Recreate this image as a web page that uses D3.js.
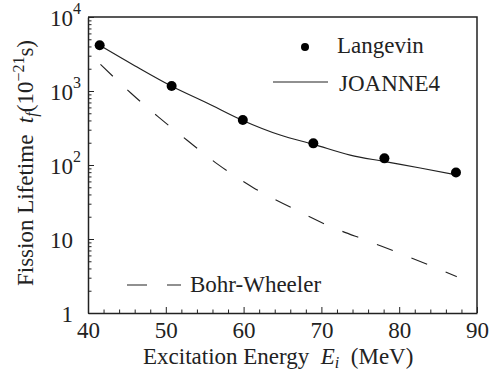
<!DOCTYPE html>
<html>
<head>
<meta charset="utf-8">
<script src="https://cdn.jsdelivr.net/npm/d3@7"></script>
<style>
  body { margin: 0; background: #fff; }
  svg text { font-family: "Liberation Serif", "Times New Roman", Times, serif !important; }
</style>
</head>
<body>
<div id="chart"></div>
<script>
// Langevin points
let langevinE = [41.5, 50.75, 59.9, 68.96, 78.1, 87.3];
let langevinT = [4150, 1170, 405, 196, 123, 79];

// JOANNE4 curve
let joanneE = [41.5, 46, 50.7, 55.3, 59.9, 64.7, 69, 73.7, 78, 82.7, 87.5];
let joanneT = [4150, 2200, 1170, 690, 400, 254, 190, 136, 112, 91, 73];

// Bohr-Wheeler curve
let bohrE = [41.6, 45.5, 49, 52.7, 56.7, 61.3, 66.1, 71, 76.1, 81.3, 87.4];
let bohrT = [2290, 940, 450, 218, 102, 49, 26.7, 15, 9.3, 5.7, 3.1];

let xTicks = [40, 50, 60, 70, 80, 90];
let xMinor = [42, 44, 46, 48, 52, 54, 56, 58, 62, 64, 66, 68, 72, 74, 76, 78, 82, 84, 86, 88];
let yTicks = [1, 10, 100, 1000, 10000];
let yLabels = [["1", ""], ["10", ""], ["10", "2"], ["10", "3"], ["10", "4"]];

let W = 489, H = 373;
let margin = { top: 17, right: 12, bottom: 60, left: 88 };
let width = W - margin.left - margin.right;
let height = H - margin.top - margin.bottom;
let ink = "#222";
let fs = 23;

let svg = d3.select('#chart').append('svg')
    .attr('width', W)
    .attr('height', H);

let x = d3.scaleLinear().domain([40, 90]).range([0, width]);
let y = d3.scaleLog().domain([1, 10000]).range([height, 0]);

let g = svg.append('g')
    .attr('transform', 'translate(' + margin.left + ',' + margin.top + ')');

// frame top / right
g.append('path')
    .attr('d', 'M0,0H' + width + 'V' + height)
    .attr('fill', 'none')
    .attr('stroke', ink)
    .attr('stroke-width', 1.5);

// x axis
let xAxis = g.append('g')
    .attr('transform', 'translate(0,' + height + ')')
    .call(d3.axisBottom(x).tickValues(xTicks).tickSize(-6).tickSizeOuter(0).tickPadding(9));
g.append('g')
    .attr('transform', 'translate(0,' + height + ')')
    .call(d3.axisBottom(x).tickValues(xMinor).tickSize(-3.5).tickSizeOuter(0).tickFormat(''))
    .select('.domain').remove();

// y axis
let yMinor = [];
[1, 10, 100, 1000].forEach(function (d) {
    for (let k = 2; k <= 9; k++) yMinor.push(k * d);
});
let yAxis = g.append('g')
    .call(d3.axisLeft(y).tickValues(yTicks).tickSize(-6).tickSizeOuter(0).tickFormat(''));
g.append('g')
    .call(d3.axisLeft(y).tickValues(yMinor).tickSize(-3.5).tickSizeOuter(0).tickFormat(''))
    .select('.domain').remove();

g.selectAll('.domain').attr('stroke', ink).attr('stroke-width', 1.5);
g.selectAll('.tick line').attr('stroke', ink).attr('stroke-width', 1);
xAxis.selectAll('text')
    .attr('fill', ink)
    .style('font-size', fs + 'px');

// y tick labels with superscripts
yAxis.selectAll('.tick').each(function (d, i) {
    let t = d3.select(this);
    let lab = yLabels[i];
    t.append('text')
        .attr('x', -15)
        .attr('dy', '0.35em')
        .attr('text-anchor', 'end')
        .attr('fill', ink)
        .style('font-size', fs + 'px')
        .text(lab[0]);
    if (lab[1]) {
        t.append('text')
            .attr('x', -15)
            .attr('dy', '-0.2em')
            .attr('text-anchor', 'start')
            .attr('fill', ink)
            .style('font-size', '16px')
            .text(lab[1]);
    }
});

// Bohr-Wheeler dashed
let line = d3.line()
    .x(function (d) { return x(d[0]); })
    .y(function (d) { return y(d[1]); })
    .curve(d3.curveMonotoneX);

g.append('path')
    .datum(d3.zip(bohrE, bohrT))
    .attr('d', line)
    .attr('fill', 'none')
    .attr('stroke', ink)
    .attr('stroke-width', 1.1)
    .attr('stroke-dasharray', '17,20');

// JOANNE4 solid
g.append('path')
    .datum(d3.zip(joanneE, joanneT))
    .attr('d', line)
    .attr('fill', 'none')
    .attr('stroke', ink)
    .attr('stroke-width', 1.2);

// Langevin dots
g.selectAll('circle.pt')
    .data(d3.zip(langevinE, langevinT))
    .enter().append('circle')
    .attr('class', 'pt')
    .attr('cx', function (d) { return x(d[0]); })
    .attr('cy', function (d) { return y(d[1]); })
    .attr('r', 5)
    .attr('fill', '#000');

// legend
let leg = svg.append('g').style('font-size', fs + 'px').attr('fill', ink);
leg.append('circle').attr('cx', 305).attr('cy', 47).attr('r', 4).attr('fill', '#000');
leg.append('text').attr('x', 337).attr('y', 53).text('Langevin');
leg.append('line').attr('x1', 273).attr('x2', 328).attr('y1', 82).attr('y2', 82)
    .attr('stroke', ink).attr('stroke-width', 1.2);
leg.append('text').attr('x', 339).attr('y', 90.5).text('JOANNE4');
leg.append('line').attr('x1', 127).attr('x2', 181).attr('y1', 285).attr('y2', 285)
    .attr('stroke', ink).attr('stroke-width', 1.2).attr('stroke-dasharray', '20,20');
leg.append('text').attr('x', 190).attr('y', 291.5).text('Bohr-Wheeler');

// x title
let xt = svg.append('text')
    .attr('x', 143).attr('y', 364)
    .attr('fill', ink)
    .style('font-size', fs + 'px');
xt.append('tspan').text('Excitation Energy\u00a0\u00a0');
xt.append('tspan').style('font-style', 'italic').text('E');
xt.append('tspan').style('font-style', 'italic').style('font-size', '16px').attr('dy', 4).text('i');
xt.append('tspan').attr('dy', -4).text('\u00a0\u00a0(MeV)');

// y title
let yt = svg.append('text')
    .attr('transform', 'translate(33,163) rotate(-90)')
    .attr('text-anchor', 'middle')
    .attr('fill', ink)
    .style('font-size', fs + 'px');
yt.append('tspan').text('Fission Lifetime\u00a0\u00a0');
yt.append('tspan').style('font-style', 'italic').text('t');
yt.append('tspan').style('font-style', 'italic').style('font-size', '16px').attr('dy', 4).text('f');
yt.append('tspan').attr('dy', -4).text('(10');
yt.append('tspan').style('font-size', '16px').attr('dy', -9).text('\u221221');
yt.append('tspan').attr('dy', 9).text('s)');
</script>
</body>
</html>
